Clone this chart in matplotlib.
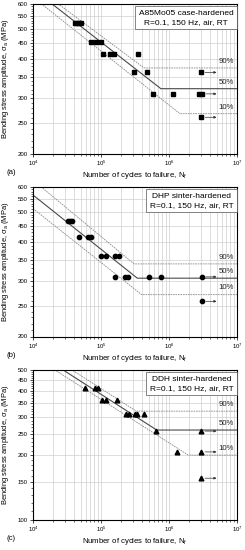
import numpy as np
import matplotlib
matplotlib.use("Agg")
import matplotlib.pyplot as plt
from matplotlib.ticker import FixedLocator, NullFormatter, LogLocator, FixedFormatter

plt.rcParams['font.family'] = ['Liberation Sans', 'DejaVu Sans']
plt.rcParams['mathtext.default'] = 'regular'

# ---------------- data ----------------
# Panel (a) A85Mo05 case-hardened
a_fail_N = [4.1e4, 4.4e4, 4.7e4, 5.0e4, 7.05e4, 8.35e4, 9.9e4, 1.08e5, 1.36e5, 1.57e5,
            3.47e5, 3.03e5, 4.8e5, 5.75e5, 1.16e6, 2.8e6]
a_fail_S = [521, 521, 521, 521, 455, 455, 455, 415, 415, 415, 415, 363, 363, 310, 310, 310]
a_run_N = [3.0e6, 3.1e6, 3.0e6]
a_run_S = [363, 310, 261]
a_knee_N = [4.3e5, 7.6e5, 1.45e6]      # 90 %, 50 %, 10 %
a_endur = [375, 322, 268]
a_slope = [0.162, 0.169, 0.172]

# Panel (b) DHP sinter-hardened
b_fail_N = [3.3e4, 3.5e4, 3.7e4, 4.75e4, 6.4e4, 7.1e4, 1.0e5, 1.19e5, 1.61e5, 1.84e5,
            1.61e5, 2.25e5, 2.52e5, 5.08e5, 7.7e5]
b_fail_S = [467, 467, 467, 414, 414, 414, 362, 362, 362, 362, 310, 310, 310, 310, 310]
b_run_N = [3.1e6, 3.1e6]
b_run_S = [310, 259]
b_knee_N = [3.06e5, 3.42e5, 3.96e5]
b_endur = [341, 307, 272]
b_slope = [0.180, 0.173, 0.172]

# Panel (c) DDH sinter-hardened
c_fail_N = [5.8e4, 8.2e4, 9.1e4, 1.02e5, 1.17e5, 1.7e5, 2.33e5, 2.6e5, 3.16e5, 3.35e5,
            4.25e5, 6.4e5, 1.32e6]
c_fail_S = [413, 413, 413, 362, 362, 362, 311, 311, 311, 311, 311, 259, 207]
c_run_N = [3.0e6, 3.0e6, 3.0e6]
c_run_S = [259, 207, 156]
c_knee_N = [3.3e5, 6.6e5, 1.92e6]
c_endur = [321, 262, 200]
c_slope = [0.204, 0.204, 0.203]

prob_labels = ['90%', '50%', '10%']
run_arrow_end = 5.0e6
x_limits = (1e4, 1e7)
x_ticks = [1e4, 1e5, 1e6, 1e7]

panels = [
    dict(tag='(a)', title='A85Mo05 case-hardened\nR=0.1, 150 Hz, air, RT', marker='s', ms=2.8,
         fN=a_fail_N, fS=a_fail_S, rN=a_run_N, rS=a_run_S, kN=a_knee_N, Se=a_endur, k=a_slope,
         ylim=(200, 600), yticks=[200, 250, 300, 350, 400, 450, 500, 550, 600]),
    dict(tag='(b)', title='DHP sinter-hardened\nR=0.1, 150 Hz, air, RT', marker='o', ms=3.1,
         fN=b_fail_N, fS=b_fail_S, rN=b_run_N, rS=b_run_S, kN=b_knee_N, Se=b_endur, k=b_slope,
         ylim=(200, 600), yticks=[200, 250, 300, 350, 400, 450, 500, 550, 600]),
    dict(tag='(c)', title='DDH sinter-hardened\nR=0.1, 150 Hz, air, RT', marker='^', ms=3.4,
         fN=c_fail_N, fS=c_fail_S, rN=c_run_N, rS=c_run_S, kN=c_knee_N, Se=c_endur, k=c_slope,
         ylim=(100, 500), yticks=[100, 150, 200, 250, 300, 350, 400, 450, 500]),
]

W, H = 245, 550
fig = plt.figure(figsize=(W / 100, H / 100), dpi=100)

ax_tops = [4, 187, 370]
ax_h = 149.5
ax_left, ax_right = 33, 237

grid_c = '#cfcfcf'
fs_lab = 5.6
fs_box = 6.0
fs_tick = 4.3

for p, top in zip(panels, ax_tops):
    ax = fig.add_axes([ax_left / W, 1 - (top + ax_h) / H, (ax_right - ax_left) / W, ax_h / H])
    ax.set_xscale('log')
    ax.set_yscale('log')
    ax.set_xlim(*x_limits)
    ax.set_ylim(*p['ylim'])

    # grid
    for xv in [m * 10 ** e for e in range(4, 7) for m in range(1, 10)] + [1e7]:
        ax.axvline(xv, color=grid_c, lw=0.5, zorder=0)
    for yv in p['yticks']:
        ax.axhline(yv, color=grid_c, lw=0.5, zorder=0)

    # probability lines
    styles = [dict(color='#8a8a8a', lw=0.6, ls=(0, (2, 1))),
              dict(color='#4a4a4a', lw=0.8, ls='-'),
              dict(color='#8a8a8a', lw=0.6, ls=(0, (2, 1)))]
    for kN, Se, k, st, lab in zip(p['kN'], p['Se'], p['k'], styles, prob_labels):
        Nl = x_limits[0]
        Sl = Se * (Nl / kN) ** (-k)
        ax.plot([Nl, kN, x_limits[1]], [Sl, Se, Se], zorder=2, **st)
        ax.annotate(lab, xy=(9.0e6, Se), xytext=(0, 4.8), textcoords='offset points',
                    ha='right', va='center', fontsize=fs_lab, color='#222222')

    # data
    ax.plot(p['fN'], p['fS'], ls='none', marker=p['marker'], ms=p['ms'], color='black',
            mec='black', zorder=4)
    ax.plot(p['rN'], p['rS'], ls='none', marker=p['marker'], ms=p['ms'], color='black',
            mec='black', zorder=4)
    for n, s in zip(p['rN'], p['rS']):
        ax.annotate('', xy=(run_arrow_end, s), xytext=(n * 1.13, s),
                    arrowprops=dict(arrowstyle='-|>', color='#333333', lw=0.5,
                                    mutation_scale=3.5, shrinkA=0, shrinkB=0), zorder=3)

    # box
    ax.text(0.982, 0.962, p['title'], transform=ax.transAxes, ha='right', va='top',
            multialignment='center', fontsize=fs_box, linespacing=1.45, zorder=6,
            bbox=dict(boxstyle='square,pad=0.4', fc='white', ec='#555555', lw=0.5))

    # ticks
    ax.xaxis.set_major_locator(FixedLocator(x_ticks))
    ax.xaxis.set_minor_locator(LogLocator(base=10, subs=np.arange(2, 10)))
    ax.xaxis.set_minor_formatter(NullFormatter())
    ax.yaxis.set_major_locator(FixedLocator(p['yticks']))
    ax.yaxis.set_major_formatter(FixedFormatter([str(v) for v in p['yticks']]))
    ax.yaxis.set_minor_locator(FixedLocator(list(range(p['ylim'][0], p['ylim'][1] + 1, 10))))
    ax.yaxis.set_minor_formatter(NullFormatter())
    ax.tick_params(which='major', direction='out', length=2.2, width=0.5, labelsize=fs_tick,
                   pad=1.5)
    ax.tick_params(which='minor', direction='out', length=1.2, width=0.4)
    for sp in ax.spines.values():
        sp.set_linewidth(0.8)

    ax.set_xlabel('Number of cycles to failure, $N_f$', fontsize=fs_lab, labelpad=1.5)
    ax.set_ylabel('Bending stress amplitude, $\\sigma_a$ (MPa)', fontsize=5.4)
    ax.yaxis.set_label_coords(-0.108, 0.5)
    ax.text(-0.128, -0.128, p['tag'], transform=ax.transAxes, ha='left', va='center',
            fontsize=fs_lab)

fig.savefig('out.png', dpi=100)
